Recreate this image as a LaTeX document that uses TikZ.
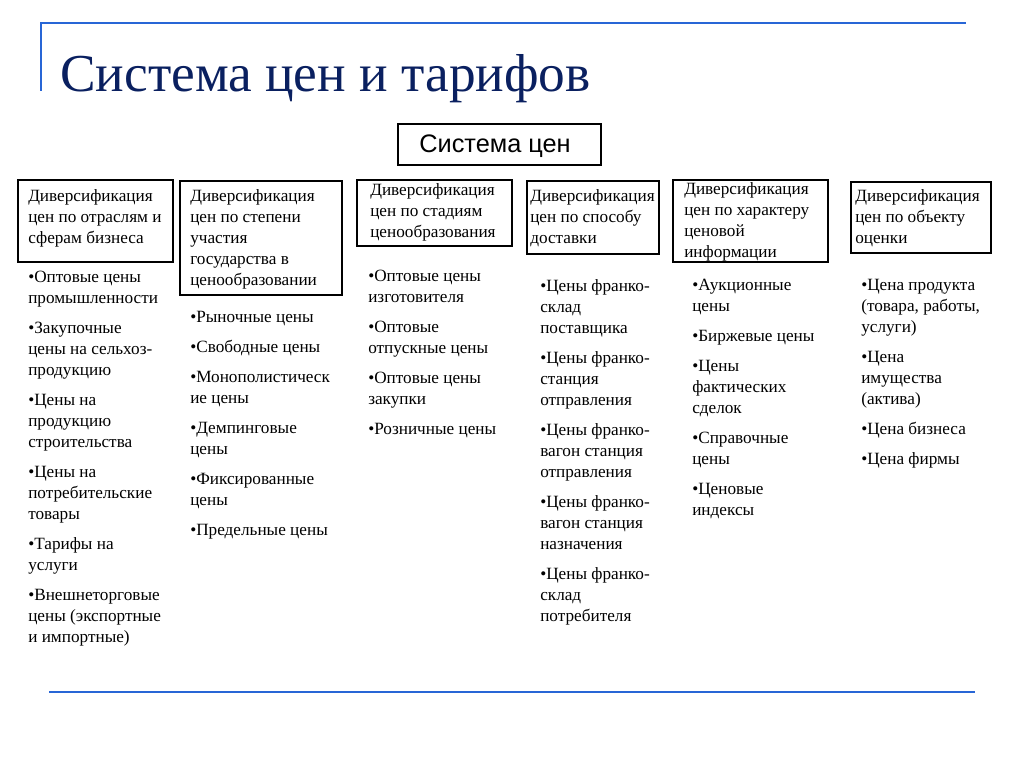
\documentclass[tikz,border=0pt]{standalone}
\usepackage{fontspec}
\setmainfont{Liberation Serif}
\newfontfamily\sansfont{Liberation Sans}
\usetikzlibrary{fit}
\definecolor{titleblue}{RGB}{10,32,96}
\definecolor{lineblue}{RGB}{40,102,214}
\tikzset{
  headbox/.style={draw, line width=1.1pt, inner sep=0pt},
  headtext/.style={anchor=west, align=left, inner sep=0pt, font=\fontsize{12.9}{15.75}\selectfont},
  pricelist/.style={anchor=north west, align=left, inner sep=0pt, font=\fontsize{12.9}{15.75}\selectfont},
}
\begin{document}
\begin{tikzpicture}[x=0.75pt,y=-0.75pt]
  \useasboundingbox (0,0) rectangle (1024,767);

  %draw frame lines
  \draw[lineblue, line width=2.2pt] (40,23) -- (966,23);
  \draw[lineblue, line width=1.5pt] (41,23) -- (41,91);
  \draw[lineblue, line width=2.2pt] (49,692) -- (975,692);

  %draw title
  \node[anchor=base west, inner sep=0pt, text=titleblue, font=\fontsize{40}{44}\selectfont] (title) at (60,92) {Система цен и тарифов};

  %draw top box
  \node[headbox, fit={(398,124) (601,165)}] (sys) {};
  \node[inner sep=0pt, font=\sansfont\fontsize{19}{22}\selectfont] (systext) at (495,146) {Система цен};

  %draw head boxes
  \node[headbox, fit={(18,180) (173,262)}] (d1) {};
  \node[headbox, fit={(180,181) (342,295)}] (d2) {};
  \node[headbox, fit={(357,180) (512,246)}] (d3) {};
  \node[headbox, fit={(527,181) (659,254)}] (d4) {};
  \node[headbox, fit={(673,180) (828,262)}] (d5) {};
  \node[headbox, fit={(851,182) (991,253)}] (d6) {};

  %draw head texts
  \node[headtext] (d1text) at (28,218) {Диверсификация\\цен по отраслям и\\сферам бизнеса};
  \node[headtext] (d2text) at (190,239) {Диверсификация\\цен по степени\\участия\\государства в\\ценообразовании};
  \node[headtext] (d3text) at (370,212) {Диверсификация\\цен по стадиям\\ценообразования};
  \node[headtext] (d4text) at (530,218) {Диверсификация\\цен по способу\\доставки};
  \node[headtext] (d5text) at (684,222) {Диверсификация\\цен по характеру\\ценовой\\информации};
  \node[headtext] (d6text) at (855,218) {Диверсификация\\цен по объекту\\оценки};

  %draw lists
  \node[pricelist] (c1) at (28,271) {•Оптовые цены\\промышленности\\[6.75pt]
    •Закупочные\\цены на сельхоз-\\продукцию\\[6.75pt]
    •Цены на\\продукцию\\строительства\\[6.75pt]
    •Цены на\\потребительские\\товары\\[6.75pt]
    •Тарифы на\\услуги\\[6.75pt]
    •Внешнеторговые\\цены (экспортные\\и импортные)};
  \node[pricelist] (c2) at (190,311) {•Рыночные цены\\[6.75pt]
    •Свободные цены\\[6.75pt]
    •Монополистическ\\ие цены\\[6.75pt]
    •Демпинговые\\цены\\[6.75pt]
    •Фиксированные\\цены\\[6.75pt]
    •Предельные цены};
  \node[pricelist] (c3) at (368,270) {•Оптовые цены\\изготовителя\\[6.75pt]
    •Оптовые\\отпускные цены\\[6.75pt]
    •Оптовые цены\\закупки\\[6.75pt]
    •Розничные цены};
  \node[pricelist] (c4) at (540,279) {•Цены франко-\\склад\\поставщика\\[6.75pt]
    •Цены франко-\\станция\\отправления\\[6.75pt]
    •Цены франко-\\вагон станция\\отправления\\[6.75pt]
    •Цены франко-\\вагон станция\\назначения\\[6.75pt]
    •Цены франко-\\склад\\потребителя};
  \node[pricelist] (c5) at (692,279) {•Аукционные\\цены\\[6.75pt]
    •Биржевые цены\\[6.75pt]
    •Цены\\фактических\\сделок\\[6.75pt]
    •Справочные\\цены\\[6.75pt]
    •Ценовые\\индексы};
  \node[pricelist] (c6) at (861,279) {•Цена продукта\\(товара, работы,\\услуги)\\[6.75pt]
    •Цена\\имущества\\(актива)\\[6.75pt]
    •Цена бизнеса\\[6.75pt]
    •Цена фирмы};
\end{tikzpicture}
\end{document}
